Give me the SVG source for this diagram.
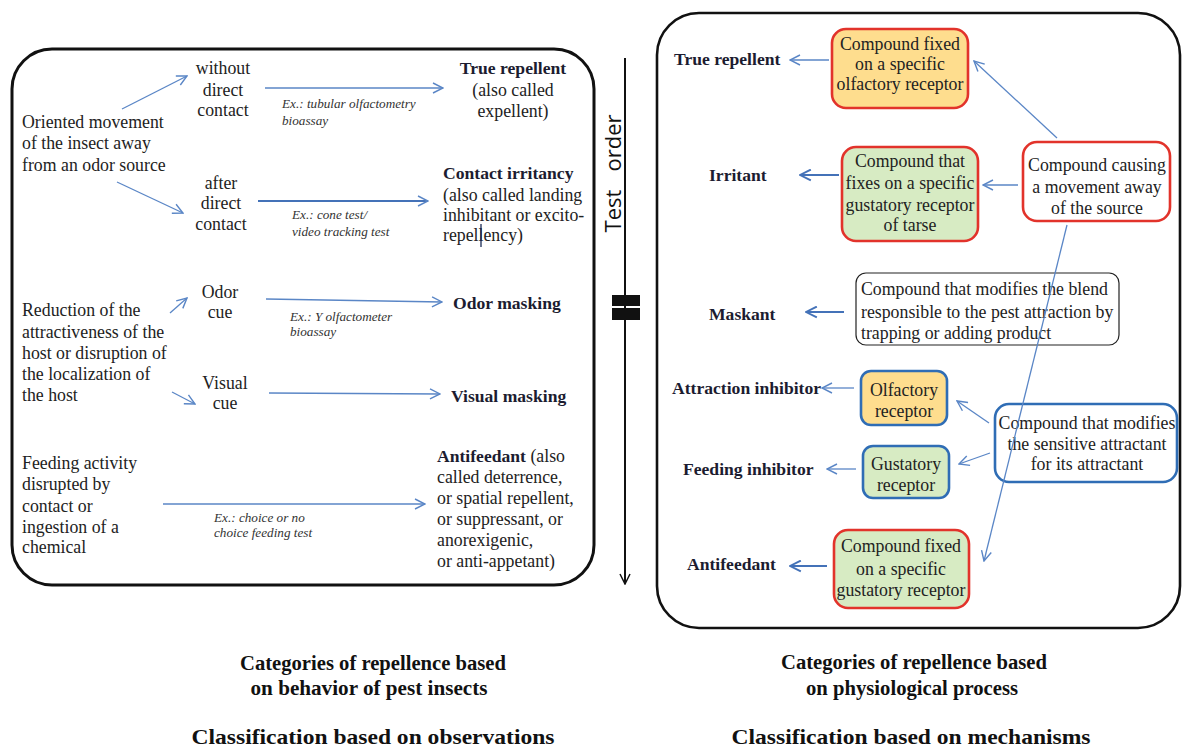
<svg xmlns="http://www.w3.org/2000/svg" width="1182" height="749" viewBox="0 0 1182 749">
<style>
.t{font-family:"Liberation Serif","Times New Roman",serif;font-size:17.8px;fill:#222}
.b{font-family:"Liberation Serif","Times New Roman",serif;font-size:17.6px;font-weight:bold;fill:#1c1c30}
.c{text-anchor:middle}
.ex{font-family:"Liberation Serif","Times New Roman",serif;font-size:13.2px;font-style:italic;fill:#333}
.cap{font-family:"Liberation Serif","Times New Roman",serif;font-weight:bold;fill:#111;text-anchor:middle}
.frame{fill:none;stroke:#111;stroke-width:3}
.ar{stroke:#5a86c6;stroke-width:1.3;fill:none;marker-end:url(#ah)}
.ar2{stroke:#4472b8;stroke-width:2.2;fill:none;marker-end:url(#ah2)}
.ry{fill:#fedd8e;stroke:#e2332b;stroke-width:2.6}
.rg{fill:#d7ebc3;stroke:#e2332b;stroke-width:2.6}
.rw{fill:#fff;stroke:#e2332b;stroke-width:2.6}
.by{fill:#fedd8e;stroke:#2f6db5;stroke-width:2.6}
.bg{fill:#d7ebc3;stroke:#2f6db5;stroke-width:2.6}
.bw{fill:#fff;stroke:#2f6db5;stroke-width:2.6}
.kw{fill:#fff;stroke:#222;stroke-width:1.2}
</style>
<defs>
<marker id="ah" viewBox="0 0 12 12" refX="11" refY="6" markerWidth="12" markerHeight="12" markerUnits="userSpaceOnUse" orient="auto">
<path d="M1,1 L11,6 L1,11" fill="none" stroke="#5a86c6" stroke-width="1.4"/>
</marker>
<marker id="ah2" viewBox="0 0 12 12" refX="11" refY="6" markerWidth="13" markerHeight="13" markerUnits="userSpaceOnUse" orient="auto">
<path d="M1,1 L11,6 L1,11" fill="none" stroke="#4472b8" stroke-width="1.8"/>
</marker>
<marker id="ahk" viewBox="0 0 12 12" refX="11" refY="6" markerWidth="12" markerHeight="12" markerUnits="userSpaceOnUse" orient="auto">
<path d="M1,1 L11,6 L1,11" fill="none" stroke="#111" stroke-width="1.5"/>
</marker>
</defs>
<rect width="1182" height="749" fill="#fff"/>

<!-- frames -->
<rect class="frame" x="12" y="49" width="582" height="536" rx="40"/>
<rect class="frame" x="657" y="13" width="523" height="615" rx="42" style="stroke-width:2.6"/>

<!-- test order axis -->
<g id="test-order">
<line x1="625" y1="58" x2="625" y2="584" stroke="#111" stroke-width="2" marker-end="url(#ahk)"/>
<rect x="612" y="295" width="28" height="11" fill="#111"/>
<rect x="612" y="308" width="28" height="12" fill="#111"/>
<text font-family="'Open Sans','Noto Sans',sans-serif" font-size="22" fill="#111" text-anchor="middle" transform="translate(621,211) rotate(-90)">Test</text>
<text font-family="'Open Sans','Noto Sans',sans-serif" font-size="22" fill="#111" text-anchor="middle" transform="translate(621,143) rotate(-90)">order</text>
</g>

<!-- left panel -->
<g id="oriented-movement"><text class="t" x="22" y="128">Oriented movement</text><text class="t" x="22" y="149">of the insect away</text><text class="t" x="22" y="171">from an odor source</text></g>
<g id="without-contact"><text class="t c" x="223" y="74">without</text><text class="t c" x="223" y="96">direct</text><text class="t c" x="223" y="116">contact</text></g>
<g id="after-contact"><text class="t c" x="221" y="189">after</text><text class="t c" x="221" y="209">direct</text><text class="t c" x="221" y="230">contact</text></g>
<g id="true-repellent-l"><text class="b c" x="513" y="74">True repellent</text><text class="t c" x="513" y="96">(also called</text><text class="t c" x="513" y="117">expellent)</text></g>
<g id="contact-irritancy"><text class="b" x="443" y="179">Contact irritancy</text><text class="t" x="443" y="201">(also called landing</text><text class="t" x="443" y="221">inhibitant or excito-</text><text class="t" x="443" y="241">repellency)</text><line x1="481" y1="224" x2="481" y2="247" stroke="#1a2a55" stroke-width="1.3"/></g>
<g id="ex1"><text class="ex" x="282" y="108">Ex.: tubular olfactometry</text><text class="ex" x="282" y="125">bioassay</text></g>
<g id="ex2"><text class="ex" x="292" y="219">Ex.: cone test/</text><text class="ex" x="292" y="236">video tracking test</text></g>
<g id="reduction"><text class="t" x="22" y="316">Reduction of the</text><text class="t" x="22" y="338">attractiveness of the</text><text class="t" x="22" y="359">host or disruption of</text><text class="t" x="22" y="380">the localization of</text><text class="t" x="22" y="401">the host</text></g>
<g id="odor-cue"><text class="t c" x="220" y="298">Odor</text><text class="t c" x="220" y="318">cue</text></g>
<g id="visual-cue"><text class="t c" x="225" y="389">Visual</text><text class="t c" x="225" y="409">cue</text></g>
<g id="ex3"><text class="ex" x="290" y="321">Ex.: Y olfactometer</text><text class="ex" x="290" y="336">bioassay</text></g>
<g id="odor-masking"><text class="b" x="453" y="309">Odor masking</text></g>
<g id="visual-masking"><text class="b" x="451" y="402">Visual masking</text></g>
<g id="feeding"><text class="t" x="22" y="469">Feeding activity</text><text class="t" x="22" y="490">disrupted by</text><text class="t" x="22" y="512">contact or</text><text class="t" x="22" y="533">ingestion of a</text><text class="t" x="22" y="553">chemical</text></g>
<g id="ex4"><text class="ex" x="214" y="522">Ex.: choice or no</text><text class="ex" x="214" y="537">choice feeding test</text></g>
<g id="antifeedant-l"><text class="t" x="437" y="462"><tspan class="b">Antifeedant</tspan> (also</text><text class="t" x="437" y="483">called deterrence,</text><text class="t" x="437" y="504">or spatial repellent,</text><text class="t" x="437" y="525">or suppressant, or</text><text class="t" x="437" y="546">anorexigenic,</text><text class="t" x="437" y="567">or anti-appetant)</text></g>

<!-- right panel -->
<g id="true-repellent-r"><text class="b" x="674" y="65">True repellent</text></g>
<g id="box-olfactory-fixed"><rect class="ry" x="832" y="29" width="136" height="79" rx="14"/><text class="t c" x="900" y="50">Compound fixed</text><text class="t c" x="900" y="70">on a specific</text><text class="t c" x="900" y="90">olfactory receptor</text></g>
<g id="irritant"><text class="b" x="709" y="181">Irritant</text></g>
<g id="box-gustatory-tarse"><rect class="rg" x="842" y="147" width="136" height="94" rx="14"/><text class="t c" x="910" y="167">Compound that</text><text class="t c" x="910" y="189">fixes on a specific</text><text class="t c" x="910" y="211">gustatory receptor</text><text class="t c" x="910" y="231">of tarse</text></g>
<g id="box-movement-away"><rect class="rw" x="1023" y="142" width="147" height="79" rx="14"/><text class="t c" x="1097" y="171">Compound causing</text><text class="t c" x="1097" y="193">a movement away</text><text class="t c" x="1097" y="214">of the source</text></g>
<g id="maskant"><text class="b" x="709" y="320">Maskant</text></g>
<g id="box-blend"><rect class="kw" x="856" y="273" width="263" height="72" rx="10"/><text class="t" x="861" y="295">Compound that modifies the blend</text><text class="t" x="861" y="318">responsible to the pest attraction by</text><text class="t" x="861" y="339">trapping or adding product</text></g>
<g id="attraction-inhibitor"><text class="b" x="672" y="394">Attraction inhibitor</text></g>
<g id="box-olfactory"><rect class="by" x="861" y="371" width="86" height="54" rx="10"/><text class="t c" x="904" y="396">Olfactory</text><text class="t c" x="904" y="417">receptor</text></g>
<g id="feeding-inhibitor"><text class="b" x="683" y="475">Feeding inhibitor</text></g>
<g id="box-gustatory"><rect class="bg" x="863" y="446" width="86" height="52" rx="10"/><text class="t c" x="906" y="470">Gustatory</text><text class="t c" x="906" y="491">receptor</text></g>
<g id="box-sensitive"><rect class="bw" x="995" y="404" width="182" height="78" rx="14"/><text class="t c" x="1087" y="429">Compound that modifies</text><text class="t c" x="1087" y="450">the sensitive attractant</text><text class="t c" x="1087" y="470">for its attractant</text></g>
<g id="antifeedant-r"><text class="b" x="687" y="570">Antifeedant</text></g>
<g id="box-gustatory-fixed"><rect class="rg" x="834" y="530" width="135" height="78" rx="14"/><text class="t c" x="901" y="552">Compound fixed</text><text class="t c" x="901" y="575">on a specific</text><text class="t c" x="901" y="596">gustatory receptor</text></g>

<!-- connectors (drawn over nodes, as in the reference) -->
<g id="connectors">
<line class="ar" x1="122" y1="109" x2="187" y2="76"/>
<line class="ar" x1="117" y1="182" x2="183" y2="213"/>
<line class="ar" x1="265" y1="88" x2="443" y2="88"/>
<line class="ar" x1="258" y1="201" x2="428" y2="201" style="stroke:#4472b8;stroke-width:1.8"/>
<line class="ar" x1="170" y1="313" x2="187" y2="298"/>
<line class="ar" x1="172" y1="392" x2="195" y2="404"/>
<line class="ar" x1="266" y1="299" x2="442" y2="302"/>
<line class="ar" x1="269" y1="393" x2="440" y2="394"/>
<line class="ar" x1="163" y1="504" x2="425" y2="504"/>

<line class="ar" x1="829" y1="60" x2="790" y2="60"/>
<line class="ar2" x1="839" y1="175" x2="800" y2="175"/>
<line class="ar" x1="1018" y1="185" x2="983" y2="185"/>
<line class="ar" x1="1057" y1="138" x2="974" y2="61"/>
<line class="ar" x1="1067" y1="225" x2="984" y2="561"/>
<line class="ar2" x1="844" y1="312" x2="806" y2="312"/>
<line class="ar" x1="854" y1="388" x2="822" y2="388"/>
<line class="ar" x1="989" y1="423" x2="957" y2="401"/>
<line class="ar" x1="990" y1="453" x2="959" y2="464"/>
<line class="ar" x1="856" y1="469" x2="827" y2="469"/>
<line class="ar2" x1="827" y1="566" x2="790" y2="566"/>
</g>

<!-- captions -->
<g id="captions">
<text class="cap" font-size="20" x="373" y="670" textLength="266" lengthAdjust="spacingAndGlyphs">Categories of repellence based</text>
<text class="cap" font-size="20" x="369" y="695" textLength="237" lengthAdjust="spacingAndGlyphs">on behavior of pest insects</text>
<text class="cap" font-size="20" x="914" y="669" textLength="266" lengthAdjust="spacingAndGlyphs">Categories of repellence based</text>
<text class="cap" font-size="20" x="912" y="695" textLength="212" lengthAdjust="spacingAndGlyphs">on physiological process</text>
<text class="cap" font-size="22" x="373" y="744" textLength="363" lengthAdjust="spacingAndGlyphs">Classification based on observations</text>
<text class="cap" font-size="22" x="911" y="744" textLength="359" lengthAdjust="spacingAndGlyphs">Classification based on mechanisms</text>
</g>
</svg>
